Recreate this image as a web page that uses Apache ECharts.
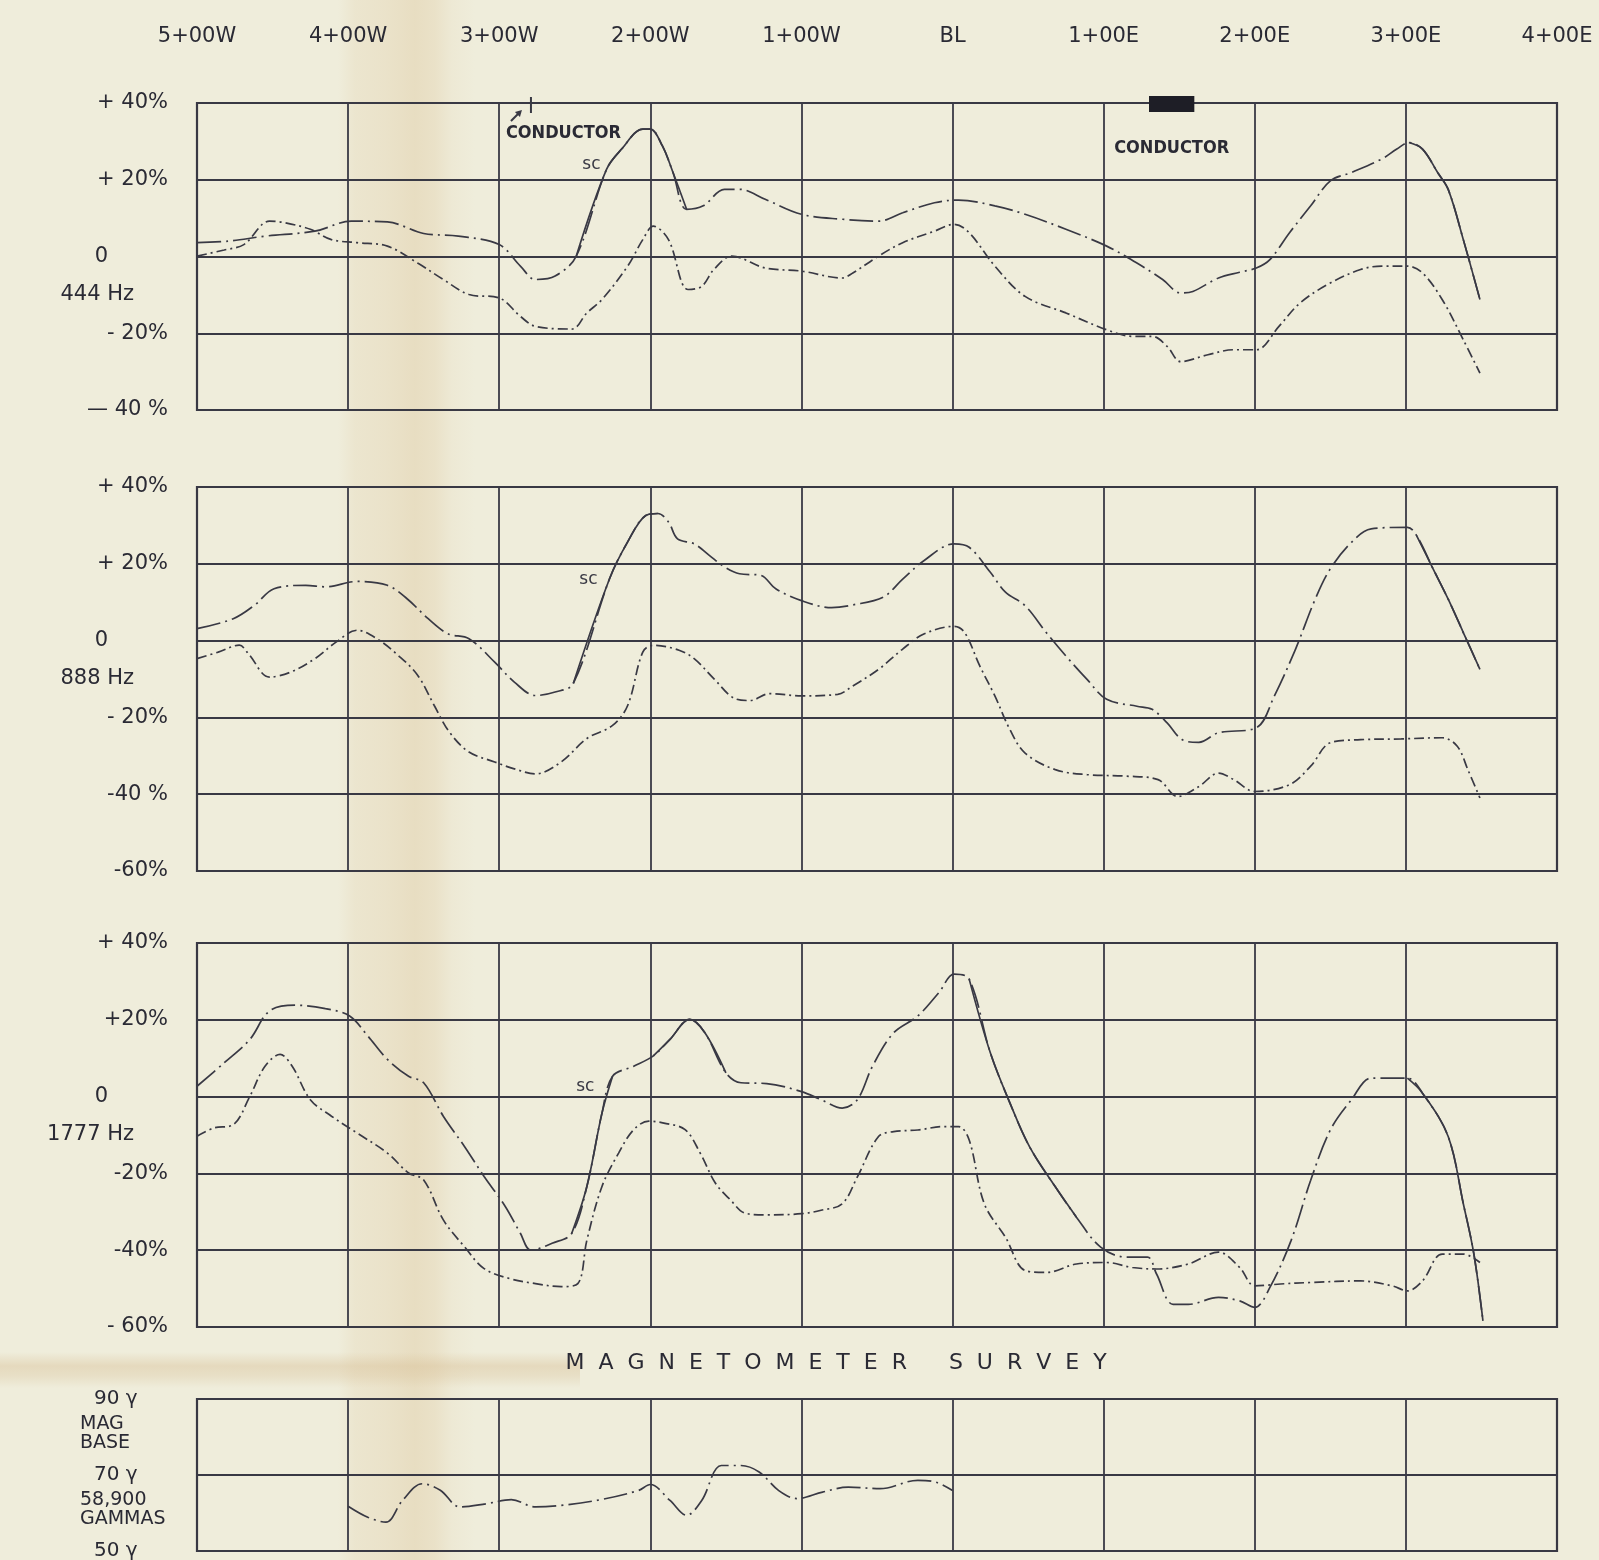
<!DOCTYPE html>
<html>
<head>
<meta charset="utf-8">
<title>EM and Magnetometer Survey Profiles</title>
<script src="https://cdn.jsdelivr.net/npm/echarts@6/dist/echarts.min.js"></script>
<style>
  html, body { margin: 0; padding: 0; background: #efeddb; }
  #chart {
    width: 1599px; height: 1560px;
    background:
      linear-gradient(to bottom, rgba(0,0,0,0) 1352px, rgba(214,188,145,0.4) 1366px, rgba(214,188,145,0.28) 1376px, rgba(0,0,0,0) 1388px) 0 0 / 580px 1560px no-repeat,
      linear-gradient(to right, rgba(0,0,0,0) 338px, rgba(224,202,162,0.22) 355px, rgba(224,202,162,0.3) 385px, rgba(220,196,152,0.38) 415px, rgba(222,198,156,0.3) 435px, rgba(222,198,156,0.1) 452px, rgba(0,0,0,0) 475px),
      #efeddb;
  }
</style>
</head>
<body>
<div id="chart"></div>
<script>
// ---- stations along the line (feet, west negative) ----
const stations = [-500, -400, -300, -200, -100, 0, 100, 200, 300, 400];
const stationLabels = ['5+00W', '4+00W', '3+00W', '2+00W', '1+00W', 'BL', '1+00E', '2+00E', '3+00E', '4+00E'];

// ---- 444 Hz ----
const x444a = [-500,-479,-455,-422,-398,-374,-350,-327,-300,-286,-276,-263,-249,-229,-219,-205,-200,-192,-185,-176,-165,-151,-141,-124,-100,-73,-49,-33,-12,4,28,48,75,102,122,139,151,159,176,190,201,210,223,237,250,264,284,294,302,311,321,328,338,349];
const y444a = [3.6,4.0,5.3,6.6,9.2,9.0,6.0,5.3,3.1,-2.5,-6.0,-5.1,0.1,22.7,28.0,33.2,33.2,28.8,21.9,12.3,13.2,17.5,17.5,14.9,11.0,9.7,9.2,11.4,14.0,14.7,13.2,11.0,7.1,2.7,-1.7,-6.0,-9.5,-9.1,-5.6,-4.1,-3.0,-0.8,6.2,13.2,19.7,21.9,25.4,28.0,29.7,28.0,21.9,17.5,4.4,-11.2];
const x444b = [-500,-482,-469,-452,-442,-425,-411,-394,-374,-354,-337,-320,-300,-286,-276,-252,-242,-232,-215,-205,-198,-188,-175,-166,-158,-146,-124,-100,-73,-66,-49,-33,-12,1,11,28,48,75,102,119,132,142,151,169,186,201,216,230,250,270,284,301,311,324,338,349];
const y444b = [0.1,1.7,3.1,9.2,8.8,7.1,4.4,3.6,2.7,-1.7,-6.0,-9.9,-10.8,-15.6,-18.2,-18.9,-14.7,-11.2,-2.5,4.4,7.9,4.4,-8.6,-7.8,-3.4,0.1,-3.0,-3.8,-5.6,-4.3,0.1,3.6,6.6,8.4,6.2,-2.5,-10.4,-14.7,-19.1,-20.8,-20.8,-23.4,-27.4,-25.6,-24.3,-24.3,-18.2,-12.1,-6.9,-3.4,-2.5,-2.5,-4.3,-11.2,-21.7,-30.4];

// ---- 888 Hz ----
const x888a = [-500,-476,-462,-449,-428,-415,-394,-374,-361,-347,-334,-320,-303,-290,-276,-263,-251,-227,-215,-203,-195,-188,-182,-171,-161,-151,-141,-127,-117,-100,-80,-66,-46,-33,-19,1,11,25,35,48,62,75,89,102,122,132,142,152,163,176,201,213,227,240,250,264,277,301,307,318,328,338,349];
const y888a = [3.1,5.7,9.2,13.5,14.4,14.0,15.4,14.4,10.9,5.7,1.8,0.5,-5.6,-10.8,-14.3,-13.4,-11.2,16.1,25.7,32.6,33.1,30.9,26.5,25.2,22.2,19.2,17.4,17.0,13.5,10.4,8.6,9.3,11.3,16.0,20.8,25.2,24.3,17.8,12.6,9.1,2.1,-4.0,-10.1,-15.3,-17.1,-17.9,-21.4,-25.8,-26.5,-24.0,-22.7,-14.4,-2.2,10.8,18.7,25.6,29.1,29.5,27.4,18.7,10.8,2.1,-7.5];
const x888b = [-500,-486,-472,-466,-452,-438,-422,-408,-394,-381,-367,-354,-343,-333,-320,-303,-290,-276,-259,-242,-225,-215,-205,-198,-181,-171,-158,-144,-134,-121,-100,-76,-66,-49,-33,-19,1,8,18,28,38,48,68,89,115,136,149,163,176,186,200,223,237,250,270,297,324,334,341,349];
const y888b = [-4.7,-3.0,-1.2,-3.4,-9.5,-8.2,-4.7,-0.4,2.7,0.5,-3.8,-9.0,-16.9,-23.8,-29.0,-31.6,-33.4,-34.7,-31.6,-25.5,-22.1,-16.9,-3.0,-1.2,-2.5,-4.7,-9.9,-15.1,-15.6,-13.8,-14.4,-14.0,-11.8,-7.5,-2.2,1.7,3.7,2.1,-6.6,-14.4,-23.2,-29.3,-33.6,-34.9,-35.3,-36.2,-40.6,-38.0,-34.5,-36.2,-39.3,-37.5,-32.7,-26.6,-25.8,-25.6,-25.3,-27.5,-33.6,-41.0];

// ---- 1777 Hz ----
const x1777a = [-500,-482,-465,-452,-435,-415,-399,-387,-374,-360,-350,-337,-323,-310,-296,-286,-279,-265,-252,-242,-232,-225,-211,-198,-187,-174,-164,-150,-140,-123,-100,-87,-73,-63,-53,-39,-23,-9,1,11,25,38,51,68,82,98,115,129,135,146,156,176,190,200,210,224,237,250,264,277,301,311,328,338,345,351];
const y1777a = [2.7,8.8,14.9,22.3,23.8,22.9,21.0,15.8,9.7,5.3,3.6,-5.1,-13.0,-20.8,-28.6,-35.6,-40.0,-38.2,-35.6,-23.4,-4.3,5.3,7.9,10.6,14.9,20.1,16.7,6.2,3.6,3.4,1.3,-0.8,-3.0,-0.8,7.9,16.6,21.0,27.1,31.9,30.6,11.4,-1.7,-13.1,-23.5,-31.4,-39.2,-41.8,-41.8,-46.2,-54.1,-54.1,-52.3,-53.2,-54.9,-49.7,-37.5,-21.8,-8.7,-0.8,4.8,4.8,0.9,-10.4,-27.9,-41.0,-58.4];
const x1777b = [-500,-489,-476,-465,-455,-445,-437,-425,-411,-394,-374,-360,-350,-337,-323,-310,-293,-276,-259,-248,-242,-232,-221,-211,-201,-191,-177,-167,-157,-147,-137,-123,-100,-87,-73,-63,-49,-39,-23,-6,4,11,21,35,48,62,82,102,119,135,156,176,190,200,217,237,270,291,301,311,324,338,349];
const y1777b = [-10.3,-8.2,-7.3,0.1,7.9,11.0,7.9,-0.8,-5.1,-9.5,-14.7,-19.9,-21.7,-32.1,-39.1,-44.8,-47.4,-48.7,-49.5,-48.7,-37.4,-23.4,-14.7,-8.6,-6.4,-6.9,-8.6,-14.7,-22.5,-26.9,-30.4,-30.8,-30.5,-29.6,-27.9,-20.9,-10.4,-9.1,-8.7,-7.8,-7.8,-11.3,-27.9,-36.6,-45.3,-45.8,-43.6,-43.2,-44.5,-44.9,-43.6,-40.5,-44.5,-49.3,-48.8,-48.4,-48.0,-49.3,-50.6,-48.0,-41.0,-41.0,-43.2];

// ---- magnetometer (gammas above 58,900 base) ----
const xMag = [-400,-387,-375,-364,-351,-339,-326,-309,-292,-276,-259,-233,-208,-200,-187,-176,-166,-153,-140,-128,-115,-103,-86,-69,-48,-23,-11,0];
const yMag = [61.8,58.9,57.6,63.3,67.7,66.0,61.6,62.4,63.5,61.6,62.0,63.5,65.9,67.5,63.3,59.4,63.3,72.5,72.5,70.8,65.9,63.8,65.5,66.8,66.4,68.6,68.1,65.9];

// ---- vertical scale labels ----
const ticks444 = [40, 20, 0, -10, -20, -40];
const labels444 = ['+ 40%', '+ 20%', '0', '444 Hz', '- 20%', '— 40 %'];
const ticks888 = [40, 20, 0, -10, -20, -40, -60];
const labels888 = ['+ 40%', '+ 20%', '0', '888 Hz', '- 20%', '-40 %', '-60%'];
const ticks1777 = [40, 20, 0, -10, -20, -40, -60];
const labels1777 = ['+ 40%', '+20%', '0', '1777 Hz', '-20%', '-40%', '- 60%'];
const ticksMag = [90, 81, 70, 61, 50];
const labelsMag = ['90 γ', 'MAG\nBASE', '70 γ', '58,900\nGAMMAS', '50 γ'];

// ---- conductor positions (feet) ----
const conductorA = -279;
const conductorB = [130, 160];

const INK = '#393944';
const TEXT = '#2a2a34';
const FONT = "'DejaVu Sans', 'Noto Sans', sans-serif";
const DASH_IP = [24, 5, 2, 5];
const DASH_Q = [10, 4, 2, 4];

const chart = echarts.init(document.getElementById('chart'), null, { renderer: 'canvas' });

const panels = [
  { top: 103, height: 307, min: -40, max: 40, ticks: ticks444, labels: labels444 },
  { top: 487, height: 384, min: -60, max: 40, ticks: ticks888, labels: labels888 },
  { top: 943, height: 384, min: -60, max: 40, ticks: ticks1777, labels: labels1777 },
  { top: 1399, height: 152, min: 50, max: 90, ticks: ticksMag, labels: labelsMag, mag: true }
];

const grids = panels.map(p => ({
  left: 197, right: 42, top: p.top, height: p.height,
  outerBoundsMode: 'none', containLabel: false,
  show: true, borderColor: INK, borderWidth: 2.2, backgroundColor: 'transparent'
}));

const xAxes = panels.map((p, g) => ({
  type: 'value', gridIndex: g, min: -500, max: 400, interval: 100,
  position: 'top',
  axisLine: { show: false }, axisTick: { show: false },
  splitLine: { show: true, lineStyle: { color: INK, width: 1.8 } },
  axisLabel: {
    show: g === 0, margin: 56, color: TEXT, fontFamily: FONT, fontSize: 21,
    formatter: v => { const i = stations.indexOf(v); return i < 0 ? '' : stationLabels[i]; }
  }
}));

const yAxes = [];
panels.forEach((p, g) => {
  // grid lines
  yAxes.push({
    type: 'value', gridIndex: g, min: p.min, max: p.max, interval: 20, position: 'left',
    axisLine: { show: false }, axisTick: { show: false }, axisLabel: { show: false },
    splitLine: { show: true, lineStyle: { color: INK, width: 1.8 } }
  });
  // scale labels
  const labelAxis = {
    type: 'value', gridIndex: g, min: p.min, max: p.max, interval: p.mag ? 1 : 10,
    position: 'left', offset: 0,
    axisLine: { show: false }, axisTick: { show: false }, splitLine: { show: false },
    axisLabel: {
      color: TEXT, fontFamily: FONT, fontSize: 21,
      formatter: v => {
        const i = p.ticks.indexOf(v);
        if (i < 0) return '';
        const t = p.labels[i];
        if (p.mag) return /\d+ γ/.test(t) ? '{n|' + t + '}' : '{w|' + t + '}';
        if (t === '0') return '{z|0}';
        if (t.indexOf('Hz') >= 0) return '{hz|' + t + '}';
        return t;
      },
      rich: {
        z:  { fontFamily: FONT, fontSize: 21, color: TEXT, padding: [0, 60, 0, 0] },
        hz: { fontFamily: FONT, fontSize: 21, color: TEXT, padding: [0, 34, 0, 0] },
        n:  { fontFamily: FONT, fontSize: 20, color: TEXT, padding: [0, 0, 0, 14] },
        w:  { fontFamily: FONT, fontSize: 19, color: TEXT, lineHeight: 19 }
      }
    }
  };
  if (p.mag) { labelAxis.axisLabel.align = 'left'; labelAxis.axisLabel.margin = 117; }
  else { labelAxis.axisLabel.margin = 29; }
  yAxes.push(labelAxis);
});

function pts(xs, ys) { return xs.map((x, i) => [x, ys[i]]); }
function curve(g, xs, ys, dash) {
  return {
    type: 'line', xAxisIndex: g, yAxisIndex: 2 * g, data: pts(xs, ys),
    smooth: 0.35, symbol: 'none', silent: true, z: 3,
    lineStyle: { color: INK, width: 1.7, type: dash }
  };
}
// solid stretches of the in-phase curves
function solid(g, xs, ys, lo, hi) {
  return {
    type: 'line', xAxisIndex: g, yAxisIndex: 2 * g,
    data: pts(xs, ys).filter(d => d[0] >= lo && d[0] <= hi),
    smooth: 0.35, symbol: 'none', silent: true, z: 4,
    lineStyle: { color: INK, width: 1.7, type: 'solid' }
  };
}

const series = [
  curve(0, x444a, y444a, DASH_IP), curve(0, x444b, y444b, DASH_Q),
  solid(0, x444a, y444a, -249, -176), solid(0, x444a, y444a, 302, 349),
  curve(1, x888a, y888a, DASH_IP), curve(1, x888b, y888b, DASH_Q),
  solid(1, x888a, y888a, -251, -195), solid(1, x888a, y888a, 307, 349),
  curve(2, x1777a, y1777a, DASH_IP), curve(2, x1777b, y1777b, DASH_Q),
  solid(2, x1777a, y1777a, -252, -225), solid(2, x1777a, y1777a, -198, -150),
  solid(2, x1777a, y1777a, 11, 82), solid(2, x1777a, y1777a, 301, 351),
  curve(3, xMag, yMag, DASH_IP)
];

chart.setOption({
  backgroundColor: 'transparent',
  animation: false,
  grid: grids,
  xAxis: xAxes,
  yAxis: yAxes,
  series: series
});

// annotations placed through the axes
const px = (g, x, y) => chart.convertToPixel({ xAxisIndex: g, yAxisIndex: 2 * g }, [x, y]);
const top1 = px(0, 0, 40)[1];
const cA = px(0, conductorA, 40)[0];
const cB0 = px(0, conductorB[0], 40)[0];
const cB1 = px(0, conductorB[1], 40)[0];
const scText = (g, x, y) => {
  const p = px(g, x, y);
  return { type: 'text', x: p[0], y: p[1], z: 10,
    style: { text: 'sc', fill: INK, font: "17px " + FONT, textAlign: 'center', textVerticalAlign: 'middle' } };
};
const condFont = "bold 18px 'Liberation Sans Narrow', 'DejaVu Sans Condensed', 'Liberation Sans', sans-serif";

chart.setOption({
  graphic: [
    { type: 'line', z: 10, shape: { x1: cA, y1: top1 - 6, x2: cA, y2: top1 + 10 }, style: { stroke: INK, lineWidth: 2 } },
    { type: 'polyline', z: 10, shape: { points: [[cA - 20, top1 + 18], [cA - 11, top1 + 9]] }, style: { stroke: INK, lineWidth: 2, fill: null } },
    { type: 'polygon', z: 10, shape: { points: [[cA - 9, top1 + 7], [cA - 16, top1 + 9], [cA - 11, top1 + 14]] }, style: { fill: INK } },
    { type: 'text', z: 10, x: cA - 25, y: top1 + 30,
      style: { text: 'CONDUCTOR', fill: TEXT, font: condFont, textVerticalAlign: 'middle' } },
    { type: 'rect', z: 10, shape: { x: cB0, y: top1 - 7, width: cB1 - cB0, height: 16 }, style: { fill: '#1e1e26' } },
    { type: 'text', z: 10, x: (cB0 + cB1) / 2, y: top1 + 45,
      style: { text: 'CONDUCTOR', fill: TEXT, font: condFont, textAlign: 'center', textVerticalAlign: 'middle' } },
    scText(0, -239, 24), scText(1, -241, 15.8), scText(2, -243, 2.5),
    { type: 'text', z: 10, x: 836, y: 1363,
      style: { text: 'M  A  G  N  E  T  O  M  E  T  E  R      S  U  R  V  E  Y', fill: TEXT,
               font: "22px " + FONT, textAlign: 'center', textVerticalAlign: 'middle' } }
  ]
});
</script>
</body>
</html>
